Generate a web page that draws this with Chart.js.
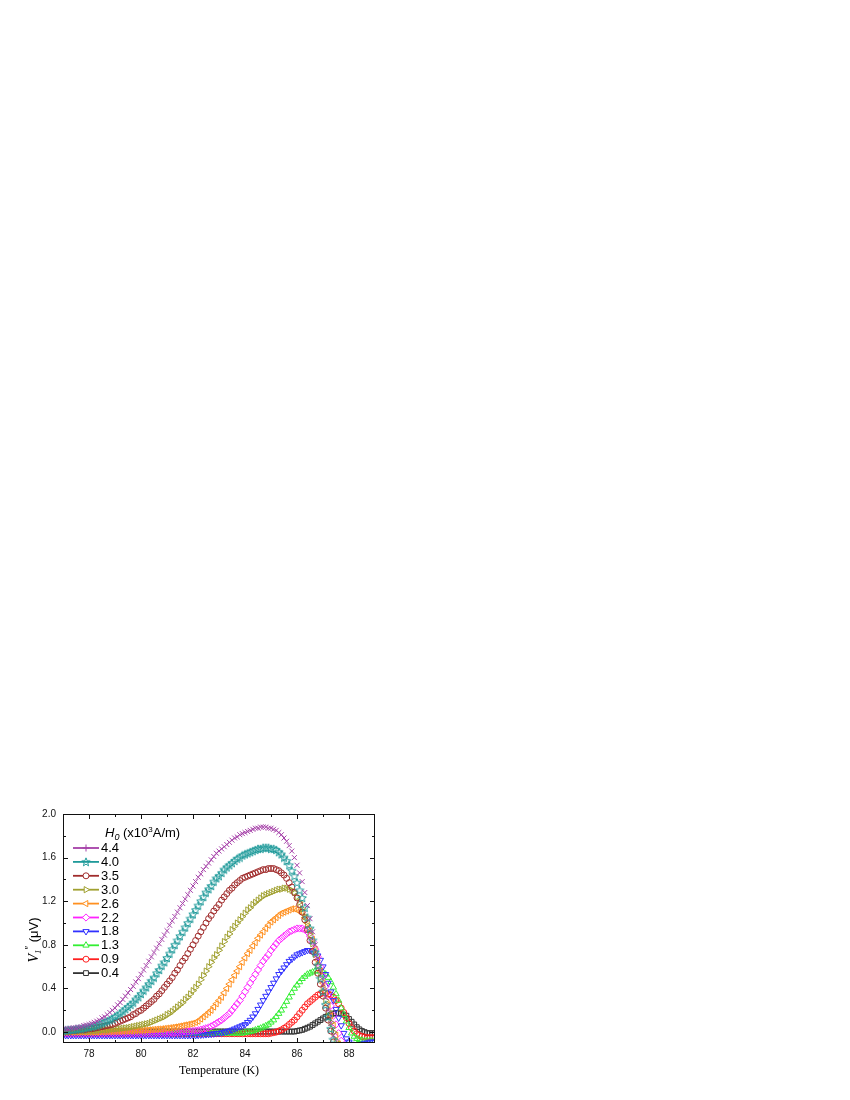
<!DOCTYPE html>
<html>
<head>
<meta charset="utf-8">
<script src="https://cdn.jsdelivr.net/npm/chart.js@4.4.1/dist/chart.umd.min.js"></script>
<style>
html, body { margin: 0; padding: 0; background: #fff; }
canvas { display: block; }
</style>
</head>
<body>
<canvas id="chart" width="850" height="1100"></canvas>
<script>
// temperature (K)
const temps = [
  77.0, 77.1, 77.2, 77.3, 77.4, 77.5, 77.6, 77.7, 77.8, 77.9,
  78.0, 78.1, 78.2, 78.3, 78.4, 78.5, 78.6, 78.7, 78.8, 78.9,
  79.0, 79.1, 79.2, 79.3, 79.4, 79.5, 79.6, 79.7, 79.8, 79.9,
  80.0, 80.1, 80.2, 80.3, 80.4, 80.5, 80.6, 80.7, 80.8, 80.9,
  81.0, 81.1, 81.2, 81.3, 81.4, 81.5, 81.6, 81.7, 81.8, 81.9,
  82.0, 82.1, 82.2, 82.3, 82.4, 82.5, 82.6, 82.7, 82.8, 82.9,
  83.0, 83.1, 83.2, 83.3, 83.4, 83.5, 83.6, 83.7, 83.8, 83.9,
  84.0, 84.1, 84.2, 84.3, 84.4, 84.5, 84.6, 84.7, 84.8, 84.9,
  85.0, 85.1, 85.2, 85.3, 85.4, 85.5, 85.6, 85.7, 85.8, 85.9,
  86.0, 86.1, 86.2, 86.3, 86.4, 86.5, 86.6, 86.7, 86.8, 86.9,
  87.0, 87.1, 87.2, 87.3, 87.4, 87.5, 87.6, 87.7, 87.8, 87.9,
  88.0, 88.1, 88.2, 88.3, 88.4, 88.5, 88.6, 88.7, 88.8, 88.9,
  89.0
]

const fieldLabels = ['4.4', '4.0', '3.5', '3.0', '2.6', '2.2', '1.8', '1.3', '0.9', '0.4']

// V1'' (uV) for each H0
const h44 = [
  0.03, 0.03, 0.03, 0.035, 0.04, 0.04, 0.045, 0.05, 0.06, 0.065,
  0.07, 0.08, 0.09, 0.10, 0.11, 0.13, 0.14, 0.16, 0.18, 0.20,
  0.22, 0.25, 0.27, 0.30, 0.33, 0.36, 0.39, 0.42, 0.46, 0.49,
  0.53, 0.57, 0.61, 0.65, 0.69, 0.73, 0.77, 0.81, 0.85, 0.89,
  0.93, 0.98, 1.02, 1.06, 1.10, 1.14, 1.18, 1.22, 1.26, 1.30,
  1.34, 1.38, 1.42, 1.45, 1.49, 1.52, 1.55, 1.58, 1.61, 1.64,
  1.66, 1.68, 1.70, 1.72, 1.74, 1.76, 1.78, 1.79, 1.81, 1.82,
  1.83, 1.84, 1.85, 1.86, 1.87, 1.87, 1.88, 1.88, 1.88, 1.87,
  1.87, 1.86, 1.85, 1.83, 1.81, 1.78, 1.75, 1.71, 1.66, 1.60,
  1.53, 1.46, 1.38, 1.28, 1.16, 1.04, 0.92, 0.80, 0.68, 0.56,
  0.44, 0.32, 0.20, 0.08, -0.03, -0.13, -0.22, -0.30, -0.36, -0.40,
  -0.43, -0.45, -0.47, -0.48, -0.48, -0.49, -0.49, -0.49, -0.50, -0.50,
  -0.50
]
const h40 = [
  0.015, 0.015, 0.02, 0.02, 0.02, 0.025, 0.03, 0.03, 0.035, 0.04,
  0.045, 0.05, 0.055, 0.06, 0.07, 0.08, 0.09, 0.10, 0.11, 0.12,
  0.14, 0.15, 0.17, 0.19, 0.21, 0.23, 0.25, 0.27, 0.30, 0.32,
  0.35, 0.38, 0.41, 0.44, 0.47, 0.50, 0.54, 0.57, 0.61, 0.64,
  0.68, 0.72, 0.76, 0.80, 0.84, 0.88, 0.92, 0.96, 1.00, 1.04,
  1.08, 1.12, 1.16, 1.20, 1.24, 1.28, 1.31, 1.34, 1.38, 1.41,
  1.43, 1.46, 1.49, 1.51, 1.53, 1.55, 1.57, 1.59, 1.60, 1.62,
  1.63, 1.64, 1.65, 1.66, 1.67, 1.68, 1.68, 1.69, 1.69, 1.69,
  1.68, 1.68, 1.67, 1.65, 1.63, 1.60, 1.57, 1.53, 1.48, 1.43,
  1.37, 1.30, 1.23, 1.14, 1.05, 0.95, 0.84, 0.73, 0.61, 0.49,
  0.37, 0.25, 0.14, 0.03, -0.07, -0.16, -0.24, -0.30, -0.35, -0.39,
  -0.42, -0.44, -0.46, -0.47, -0.48, -0.48, -0.49, -0.49, -0.50, -0.50,
  -0.50
]
const h35 = [
  0.01, 0.01, 0.01, 0.01, 0.015, 0.015, 0.02, 0.02, 0.02, 0.025,
  0.03, 0.03, 0.035, 0.04, 0.045, 0.05, 0.055, 0.06, 0.065, 0.07,
  0.08, 0.09, 0.10, 0.11, 0.12, 0.13, 0.14, 0.16, 0.17, 0.19,
  0.20, 0.22, 0.24, 0.26, 0.28, 0.30, 0.33, 0.35, 0.38, 0.41,
  0.44, 0.47, 0.50, 0.54, 0.57, 0.61, 0.65, 0.68, 0.72, 0.76,
  0.80, 0.84, 0.88, 0.92, 0.96, 1.00, 1.04, 1.07, 1.11, 1.14,
  1.17, 1.21, 1.24, 1.27, 1.30, 1.32, 1.35, 1.37, 1.39, 1.41,
  1.42, 1.43, 1.44, 1.45, 1.46, 1.47, 1.48, 1.49, 1.49, 1.50,
  1.50, 1.50, 1.49, 1.48, 1.46, 1.44, 1.41, 1.37, 1.33, 1.28,
  1.23, 1.17, 1.10, 1.03, 0.94, 0.84, 0.74, 0.64, 0.54, 0.44,
  0.33, 0.22, 0.11, 0.01, -0.09, -0.17, -0.25, -0.31, -0.36, -0.40,
  -0.42, -0.44, -0.45, -0.46, -0.46, -0.47, -0.47, -0.47, -0.48, -0.48,
  -0.48
]
const h30 = [
  0.005, 0.005, 0.005, 0.005, 0.01, 0.01, 0.01, 0.01, 0.01, 0.01,
  0.01, 0.01, 0.012, 0.014, 0.016, 0.018, 0.02, 0.02, 0.022, 0.025,
  0.027, 0.03, 0.032, 0.035, 0.038, 0.04, 0.045, 0.05, 0.055, 0.06,
  0.065, 0.07, 0.075, 0.08, 0.09, 0.10, 0.11, 0.12, 0.13, 0.14,
  0.16, 0.17, 0.19, 0.21, 0.23, 0.25, 0.27, 0.30, 0.32, 0.35,
  0.38, 0.41, 0.44, 0.48, 0.52, 0.56, 0.60, 0.64, 0.68, 0.71,
  0.75, 0.79, 0.83, 0.87, 0.90, 0.94, 0.97, 1.00, 1.03, 1.06,
  1.09, 1.12, 1.14, 1.17, 1.19, 1.21, 1.23, 1.25, 1.26, 1.27,
  1.28, 1.29, 1.30, 1.31, 1.31, 1.32, 1.32, 1.31, 1.30, 1.28,
  1.24, 1.19, 1.13, 1.06, 0.98, 0.90, 0.81, 0.71, 0.61, 0.50,
  0.40, 0.29, 0.19, 0.09, 0.00, -0.08, -0.15, -0.21, -0.26, -0.30,
  -0.33, -0.36, -0.38, -0.39, -0.40, -0.41, -0.41, -0.42, -0.42, -0.42,
  -0.42
]
const h26 = [
  0, 0, 0, 0, 0, 0, 0, 0, 0, 0,
  0, 0, 0, 0, 0.002, 0.003, 0.004, 0.005, 0.005, 0.006,
  0.006, 0.007, 0.008, 0.009, 0.01, 0.01, 0.011, 0.012, 0.013, 0.014,
  0.015, 0.016, 0.018, 0.02, 0.022, 0.024, 0.026, 0.028, 0.03, 0.033,
  0.036, 0.039, 0.042, 0.046, 0.05, 0.055, 0.06, 0.065, 0.07, 0.075,
  0.08, 0.09, 0.10, 0.12, 0.14, 0.16, 0.18, 0.20, 0.23, 0.26,
  0.29, 0.32, 0.36, 0.40, 0.44, 0.48, 0.52, 0.56, 0.60, 0.64,
  0.68, 0.72, 0.75, 0.79, 0.82, 0.86, 0.89, 0.92, 0.95, 0.98,
  1.01, 1.03, 1.05, 1.07, 1.09, 1.10, 1.11, 1.12, 1.13, 1.13,
  1.12, 1.11, 1.09, 1.05, 1.00, 0.93, 0.85, 0.76, 0.66, 0.56,
  0.45, 0.35, 0.25, 0.15, 0.06, -0.03, -0.11, -0.18, -0.24, -0.28,
  -0.31, -0.34, -0.36, -0.37, -0.38, -0.39, -0.39, -0.40, -0.40, -0.40,
  -0.40
]
const h22 = [
  -0.01, -0.01, -0.01, -0.01, -0.01, -0.01, -0.01, -0.01, -0.01, -0.01,
  -0.01, -0.01, -0.01, -0.01, -0.01, -0.01, -0.01, -0.01, -0.01, -0.01,
  -0.01, -0.01, -0.01, -0.01, -0.01, -0.01, -0.01, -0.01, -0.01, -0.01,
  -0.01, -0.01, -0.01, -0.01, -0.01, -0.01, -0.01, -0.01, -0.01, -0.01,
  -0.01, -0.008, -0.006, -0.004, -0.002, 0, 0.002, 0.004, 0.006, 0.008,
  0.01, 0.013, 0.017, 0.022, 0.028, 0.035, 0.043, 0.053, 0.065, 0.08,
  0.095, 0.11, 0.13, 0.15, 0.17, 0.20, 0.23, 0.26, 0.29, 0.33,
  0.37, 0.41, 0.45, 0.49, 0.53, 0.57, 0.61, 0.65, 0.68, 0.71,
  0.75, 0.78, 0.81, 0.84, 0.86, 0.88, 0.90, 0.92, 0.93, 0.94,
  0.95, 0.95, 0.95, 0.94, 0.92, 0.88, 0.83, 0.76, 0.69, 0.60,
  0.51, 0.42, 0.33, 0.24, 0.15, 0.07, -0.01, -0.08, -0.14, -0.19,
  -0.23, -0.26, -0.29, -0.31, -0.33, -0.34, -0.35, -0.35, -0.36, -0.36,
  -0.36
]
const h18 = [
  -0.03, -0.03, -0.03, -0.03, -0.03, -0.03, -0.03, -0.03, -0.03, -0.03,
  -0.03, -0.03, -0.03, -0.03, -0.03, -0.03, -0.03, -0.03, -0.03, -0.03,
  -0.03, -0.03, -0.03, -0.03, -0.03, -0.03, -0.03, -0.03, -0.03, -0.03,
  -0.03, -0.03, -0.03, -0.03, -0.03, -0.03, -0.03, -0.03, -0.03, -0.03,
  -0.03, -0.03, -0.03, -0.03, -0.03, -0.03, -0.03, -0.03, -0.03, -0.03,
  -0.03, -0.03, -0.028, -0.026, -0.024, -0.022, -0.02, -0.018, -0.015, -0.012,
  -0.01, -0.006, 0.0, 0.006, 0.012, 0.02, 0.03, 0.04, 0.05, 0.06,
  0.07, 0.09, 0.11, 0.14, 0.17, 0.21, 0.25, 0.29, 0.33, 0.37,
  0.41, 0.45, 0.49, 0.53, 0.56, 0.59, 0.62, 0.65, 0.67, 0.69,
  0.71, 0.72, 0.73, 0.74, 0.75, 0.75, 0.74, 0.73, 0.70, 0.66,
  0.60, 0.53, 0.45, 0.37, 0.29, 0.21, 0.13, 0.06, -0.01, -0.06,
  -0.09, -0.11, -0.12, -0.12, -0.12, -0.11, -0.10, -0.10, -0.09, -0.09,
  -0.09
]
const h13 = [
  -0.01, -0.01, -0.01, -0.01, -0.01, -0.01, -0.01, -0.01, -0.01, -0.01,
  -0.01, -0.01, -0.01, -0.01, -0.01, -0.01, -0.01, -0.01, -0.01, -0.01,
  -0.01, -0.01, -0.01, -0.01, -0.01, -0.01, -0.01, -0.01, -0.01, -0.01,
  -0.01, -0.01, -0.01, -0.01, -0.01, -0.01, -0.01, -0.01, -0.01, -0.01,
  -0.01, -0.01, -0.01, -0.01, -0.01, -0.01, -0.01, -0.01, -0.01, -0.01,
  -0.01, -0.01, -0.01, -0.01, -0.01, -0.01, -0.01, -0.01, -0.01, -0.01,
  -0.01, -0.01, -0.01, -0.01, -0.01, -0.01, -0.01, -0.01, -0.01, -0.01,
  -0.005, 0, 0.005, 0.01, 0.018, 0.026, 0.035, 0.045, 0.057, 0.07,
  0.09, 0.11, 0.14, 0.17, 0.20, 0.24, 0.28, 0.32, 0.36, 0.40,
  0.43, 0.46, 0.49, 0.51, 0.53, 0.54, 0.55, 0.56, 0.56, 0.56,
  0.55, 0.53, 0.50, 0.46, 0.41, 0.35, 0.29, 0.22, 0.16, 0.10,
  0.04, -0.01, -0.04, -0.06, -0.07, -0.075, -0.08, -0.08, -0.08, -0.08,
  -0.08
]
const h09 = [
  -0.015, -0.015, -0.015, -0.015, -0.015, -0.015, -0.015, -0.015, -0.015, -0.015,
  -0.015, -0.015, -0.015, -0.015, -0.015, -0.015, -0.015, -0.015, -0.015, -0.015,
  -0.015, -0.015, -0.015, -0.015, -0.015, -0.015, -0.015, -0.015, -0.015, -0.015,
  -0.015, -0.015, -0.015, -0.015, -0.015, -0.015, -0.015, -0.015, -0.015, -0.015,
  -0.015, -0.015, -0.015, -0.015, -0.015, -0.015, -0.015, -0.015, -0.015, -0.015,
  -0.015, -0.015, -0.015, -0.015, -0.015, -0.015, -0.015, -0.015, -0.015, -0.015,
  -0.015, -0.015, -0.015, -0.015, -0.015, -0.015, -0.015, -0.015, -0.015, -0.015,
  -0.015, -0.015, -0.015, -0.015, -0.015, -0.015, -0.015, -0.015, -0.015, -0.015,
  -0.01, -0.005, 0.0, 0.01, 0.02, 0.035, 0.05, 0.07, 0.09, 0.11,
  0.14, 0.17, 0.20, 0.23, 0.26, 0.28, 0.30, 0.32, 0.34, 0.35,
  0.36, 0.36, 0.35, 0.34, 0.32, 0.29, 0.26, 0.22, 0.18, 0.13,
  0.08, 0.04, 0.01, -0.015, -0.03, -0.04, -0.045, -0.05, -0.05, -0.05,
  -0.05
]
const h04 = [
  0.005, 0.005, 0.005, 0.005, 0.005, 0.005, 0.005, 0.005, 0.005, 0.005,
  0.005, 0.005, 0.005, 0.005, 0.005, 0.005, 0.005, 0.005, 0.005, 0.005,
  0.005, 0.005, 0.005, 0.005, 0.005, 0.005, 0.005, 0.005, 0.005, 0.005,
  0.005, 0.005, 0.005, 0.005, 0.005, 0.005, 0.005, 0.005, 0.005, 0.005,
  0.005, 0.005, 0.005, 0.005, 0.005, 0.005, 0.005, 0.005, 0.005, 0.005,
  0.005, 0.005, 0.005, 0.005, 0.005, 0.005, 0.005, 0.005, 0.005, 0.005,
  0.005, 0.005, 0.005, 0.005, 0.005, 0.005, 0.005, 0.005, 0.005, 0.005,
  0.005, 0.005, 0.005, 0.005, 0.005, 0.005, 0.005, 0.005, 0.005, 0.005,
  0.005, 0.005, 0.005, 0.005, 0.005, 0.005, 0.005, 0.005, 0.005, 0.005,
  0.01, 0.015, 0.02, 0.03, 0.04, 0.05, 0.065, 0.08, 0.095, 0.11,
  0.125, 0.14, 0.15, 0.16, 0.17, 0.175, 0.175, 0.17, 0.16, 0.15,
  0.12, 0.095, 0.07, 0.045, 0.025, 0.01, 0.0, -0.01, -0.01, -0.01,
  -0.01
]

const xTickValues = [78, 79, 80, 81, 82, 83, 84, 85, 86, 87, 88]
const yTickValues = [0.0, 0.2, 0.4, 0.6, 0.8, 1.0, 1.2, 1.4, 1.6, 1.8, 2.0]

const series = [h44, h40, h35, h30, h26, h22, h18, h13, h09, h04]

// little 5 point star for the 4.0 curve
const makeStar = (color) => {
    const c = document.createElement('canvas')
    c.width = 10
    c.height = 10
    const g = c.getContext('2d')
    g.strokeStyle = color
    g.lineWidth = 1
    g.beginPath()
    for (let k = 0; k < 10; k++) {
        const r = k % 2 ? 1.9 : 4.4
        const a = -Math.PI / 2 + k * Math.PI / 5
        const px = 5 + r * Math.cos(a)
        const py = 5.3 + r * Math.sin(a)
        if (k === 0) g.moveTo(px, py)
        else g.lineTo(px, py)
    }
    g.closePath()
    g.stroke()
    return c
}

const styles = [
    { color: '#a540a8', point: 'crossRot', legend: 'cross', rot: 0, r: 3.5 },
    { color: '#1f9a9a', point: makeStar('#1f9a9a'), legend: null, rot: 0, r: 3.5 },
    { color: '#a02c2c', point: 'circle', rot: 0, r: 3 },
    { color: '#a0a030', point: 'triangle', rot: 90, r: 3.6 },
    { color: '#ff9020', point: 'triangle', rot: -90, r: 3.6 },
    { color: '#ff22ff', point: 'rectRot', rot: 0, r: 3.6 },
    { color: '#3030ff', point: 'triangle', rot: 180, r: 3.6 },
    { color: '#33ee33', point: 'triangle', rot: 0, r: 3.6 },
    { color: '#ff2020', point: 'circle', rot: 0, r: 3 },
    { color: '#333333', point: 'rect', rot: 0, r: 3.4 }
]

const FONT = '"Liberation Sans", Arial, sans-serif'
const SERIF = '"Liberation Serif", "Times New Roman", serif'

// frame + inward ticks on all four sides, y title
const frameTicks = {
    id: 'frameTicks',
    afterDraw(chart) {
        const { ctx, chartArea: a, scales: { x, y } } = chart
        ctx.save()
        ctx.strokeStyle = '#111'
        ctx.lineWidth = 1
        ctx.strokeRect(a.left + 0.5, a.top + 0.5, a.right - a.left - 1, a.bottom - a.top - 1)
        ctx.beginPath()
        xTickValues.forEach(v => {
            const px = Math.round(x.getPixelForValue(v)) + 0.5
            const len = v % 2 === 0 ? 5 : 3
            ctx.moveTo(px, a.bottom); ctx.lineTo(px, a.bottom - len)
            ctx.moveTo(px, a.top); ctx.lineTo(px, a.top + len)
        })
        yTickValues.forEach(v => {
            const py = Math.round(y.getPixelForValue(v)) + 0.5
            const len = Math.round(v * 10) % 4 === 0 ? 5 : 3
            ctx.moveTo(a.left, py); ctx.lineTo(a.left + len, py)
            ctx.moveTo(a.right, py); ctx.lineTo(a.right - len, py)
        })
        ctx.stroke()

        // y title: V1'' (uV)
        ctx.translate(33, 940)
        ctx.rotate(-Math.PI / 2)
        ctx.fillStyle = '#000'
        ctx.textBaseline = 'alphabetic'
        const parts = [
            { t: 'V', f: 'italic 14px ' + SERIF, dy: 0 },
            { t: '1', f: 'italic 9px ' + SERIF, dy: 3 },
            { t: '\u2033', f: '10px ' + FONT, dy: -5 },
            { t: ' (\u03bcV)', f: '13px ' + FONT, dy: 0 }
        ]
        let w = 0
        parts.forEach(p => { ctx.font = p.f; w += ctx.measureText(p.t).width })
        let px = -w / 2
        parts.forEach(p => {
            ctx.font = p.f
            ctx.fillText(p.t, px, 5 + p.dy)
            px += ctx.measureText(p.t).width
        })
        ctx.restore()
    }
}

// legend drawn inside the plot, top left
const innerLegend = {
    id: 'innerLegend',
    afterDatasetsDraw(chart) {
        const ctx = chart.ctx
        ctx.save()
        ctx.fillStyle = '#000'
        ctx.textBaseline = 'alphabetic'
        let tx = 105
        const ty = 837
        const title = [
            { t: 'H', f: 'italic 13px ' + FONT, dy: 0 },
            { t: '0', f: 'italic 9px ' + FONT, dy: 3 },
            { t: ' (x10', f: '13px ' + FONT, dy: 0 },
            { t: '3', f: '8px ' + FONT, dy: -5 },
            { t: 'A/m)', f: '13px ' + FONT, dy: 0 }
        ]
        title.forEach(p => {
            ctx.font = p.f
            ctx.fillText(p.t, tx, ty + p.dy)
            tx += ctx.measureText(p.t).width
        })

        chart.data.datasets.forEach((ds, i) => {
            const st = styles[i]
            const yy = 848 + i * 13.9
            ctx.strokeStyle = st.color
            ctx.lineWidth = 1.8
            ctx.beginPath()
            ctx.moveTo(73, yy)
            ctx.lineTo(99, yy)
            ctx.stroke()
            ctx.fillStyle = '#fff'
            ctx.lineWidth = 1
            Chart.helpers.drawPoint(ctx, {
                pointStyle: st.legend || st.point,
                rotation: st.rot,
                radius: st.r,
                borderWidth: 1
            }, 86, yy)
            ctx.fillStyle = '#000'
            ctx.font = '13px ' + FONT
            ctx.textBaseline = 'middle'
            ctx.fillText(ds.label, 101, yy + 0.5)
        })
        ctx.restore()
    }
}

const ctx = document.getElementById('chart').getContext('2d')
const chart = new Chart(ctx, {
    type: 'scatter',
    data: {
        datasets: series.map((vals, i) => ({
            label: fieldLabels[i],
            data: temps.map((t, k) => ({ x: t, y: vals[k] })),
            showLine: false,
            borderColor: styles[i].color,
            borderWidth: 1,
            backgroundColor: 'rgba(0,0,0,0)',
            pointStyle: styles[i].point,
            pointRotation: styles[i].rot,
            pointRadius: styles[i].r,
            pointBorderWidth: 1,
            pointBorderColor: styles[i].color,
            pointBackgroundColor: 'rgba(0,0,0,0)'
        }))
    },
    options: {
        responsive: false,
        animation: false,
        events: [],
        layout: { padding: { left: 0, right: 475, top: 814, bottom: 0 } },
        plugins: {
            legend: { display: false },
            tooltip: { enabled: false }
        },
        scales: {
            x: {
                type: 'linear',
                min: 77,
                max: 89,
                afterBuildTicks: s => { s.ticks = xTickValues.map(v => ({ value: v })) },
                afterFit: s => { s.height = 57 },
                grid: { display: false, drawTicks: false },
                border: { display: false },
                ticks: {
                    autoSkip: false,
                    maxRotation: 0,
                    padding: 5,
                    color: '#111',
                    font: { family: FONT, size: 10 },
                    callback: v => (v % 2 === 0 ? String(v) : '')
                },
                title: {
                    display: true,
                    text: 'Temperature (K)',
                    color: '#000',
                    font: { family: SERIF, size: 12 },
                    padding: { top: 0, bottom: 22 }
                }
            },
            y: {
                min: -0.1,
                max: 2.0,
                afterBuildTicks: s => { s.ticks = yTickValues.map(v => ({ value: v })) },
                afterFit: s => { s.width = 63 },
                grid: { display: false, drawTicks: false },
                border: { display: false },
                ticks: {
                    padding: 7,
                    color: '#111',
                    font: { family: FONT, size: 10 },
                    callback: v => (Math.round(v * 10) % 4 === 0 ? v.toFixed(1) : '')
                }
            }
        }
    },
    plugins: [frameTicks, innerLegend]
})
</script>
</body>
</html>
